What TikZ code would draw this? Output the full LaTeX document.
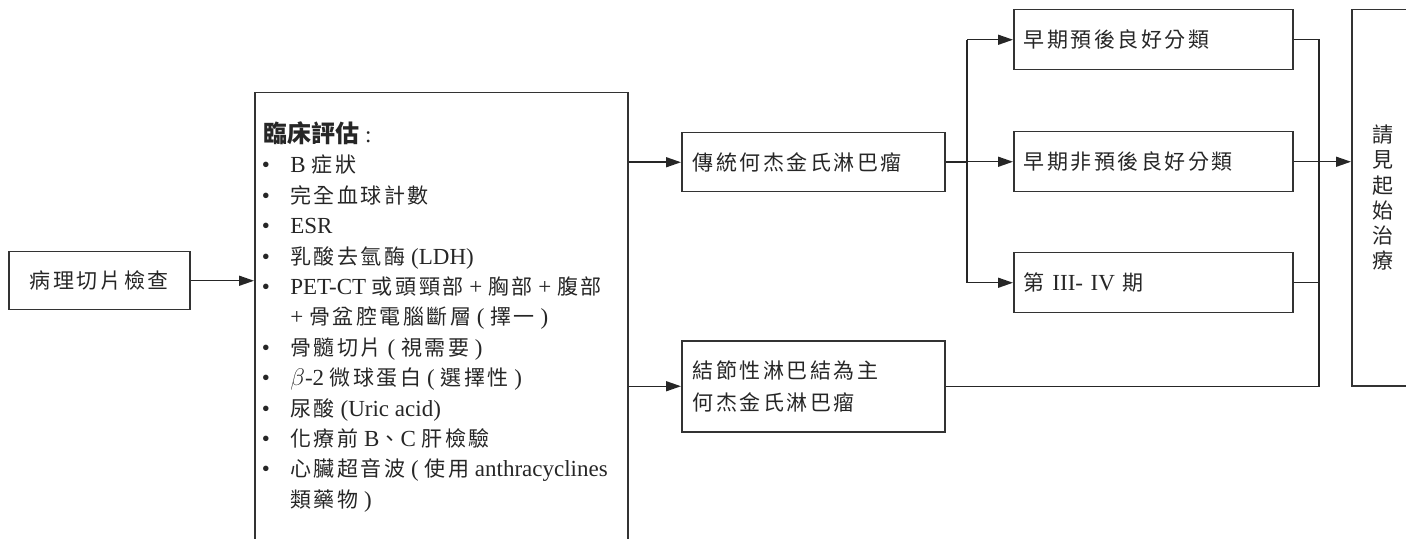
\documentclass[tikz,border=0pt]{standalone}
\usepackage{fontspec}
\setmainfont{Liberation Serif}
\newfontfamily\cjk[LetterSpace=12]{Noto Sans CJK TC}
\newfontfamily\cjkhead{Noto Sans CJK TC}
\usetikzlibrary{arrows.meta}
\newcommand\zh[1]{{\fontsize{10.5pt}{12pt}\cjk #1}}
\begin{document}
\begin{tikzpicture}[x=0.5pt,y=-0.5pt,
  every node/.style={text=black!85, font=\fontsize{11.5pt}{14pt}\selectfont},
  box/.style={draw=black!80, line width=0.75pt, inner sep=0pt, anchor=north west},
  arr/.style={-{Triangle[length=7.5pt,width=5pt]}},
  conn/.style={draw=black!85, line width=0.75pt}]
\useasboundingbox (0,0) rectangle (1406,539);
\clip (0,0) rectangle (1406,539);

% boxes
\node[box, minimum width=90.5pt, minimum height=29pt] (path) at (8,251) {\zh{病理切片檢查}};
\node[box, minimum width=186.5pt, minimum height=234pt] (big) at (254,92) {};
\node[box, minimum width=131.5pt, minimum height=29.5pt, text width=120.5pt, align=left, inner xsep=5.5pt] (trad) at (681,132) {\zh{傳統何杰金氏淋巴瘤}};
\node[box, minimum width=131.5pt, minimum height=45.5pt, text width=120.5pt, align=left, inner xsep=5.5pt, font=\fontsize{11.5pt}{16pt}\selectfont] (nod) at (681,340) {\zh{結節性淋巴結為主}\\\zh{何杰金氏淋巴瘤}};
\node[box, minimum width=139.5pt, minimum height=30pt, text width=129.5pt, align=left, inner xsep=5pt] (e1) at (1013,9) {\zh{早期預後良好分類}};
\node[box, minimum width=139.5pt, minimum height=30pt, text width=129.5pt, align=left, inner xsep=5pt] (e2) at (1013,131) {\zh{早期非預後良好分類}};
\node[box, minimum width=139.5pt, minimum height=30pt, text width=129.5pt, align=left, inner xsep=5pt] (e3) at (1013,252) {\zh{第} III- IV \zh{期}};
\node[box, minimum width=31pt, minimum height=188pt, align=center, font=\fontsize{10.5pt}{12.6pt}\cjkhead] (see) at (1351,9) {請\\見\\起\\始\\治\\療};

% list inside the big box
\node[anchor=base west, inner sep=0pt] (head) at (263,142.5) {{\fontsize{12pt}{14pt}\cjkhead\bfseries 臨床評估} :};
\foreach \txt [count=\i] in {
  {B \zh{症狀}},
  {\zh{完全血球計數}},
  {ESR},
  {\zh{乳酸去氫酶} (LDH)},
  {PET-CT \zh{或頭頸部} + \zh{胸部} + \zh{腹部}},
  {+ \zh{骨盆腔電腦斷層} ( \zh{擇一} )},
  {\zh{骨髓切片} ( \zh{視需要} )},
  {$\beta$-2 \zh{微球蛋白} ( \zh{選擇性} )},
  {\zh{尿酸} (Uric acid)},
  {\zh{化療前} B\zh{、}C \zh{肝檢驗}},
  {\zh{心臟超音波} ( \zh{使用} anthracyclines},
  {\zh{類藥物} )}}
  {\node[anchor=base west, inner sep=0pt] (ln\i) at (290,{142.5+30.4*\i}) {\txt};}
\foreach \i in {1,2,3,4,5,7,8,9,10,11}
  {\node[anchor=base, inner sep=0pt] (bu\i) at (266,{142.5+30.4*\i}) {•};}

% connectors
\coordinate (brx) at (967,0);
\coordinate (colx) at (1319,0);
\draw[conn, arr] (path.east) -- (path.east -| big.west);
\draw[conn, arr] (trad.west -| big.east) -- (trad.west);
\draw[conn, arr] (nod.west -| big.east) -- (nod.west);
\draw[conn] (trad.east) -- (trad.east -| brx);
\draw[conn] (e1.west -| brx) -- (e3.west -| brx);
\draw[conn, arr] (e1.west -| brx) -- (e1.west);
\draw[conn, arr] (e2.west -| brx) -- (e2.west);
\draw[conn, arr] (e3.west -| brx) -- (e3.west);
\draw[conn] (e1.east) -- (e1.east -| colx) -- (nod.east -| colx) -- (nod.east);
\draw[conn] (e3.east) -- (e3.east -| colx);
\draw[conn, arr] (e2.east) -- (e2.east -| see.west);
\end{tikzpicture}
\end{document}
